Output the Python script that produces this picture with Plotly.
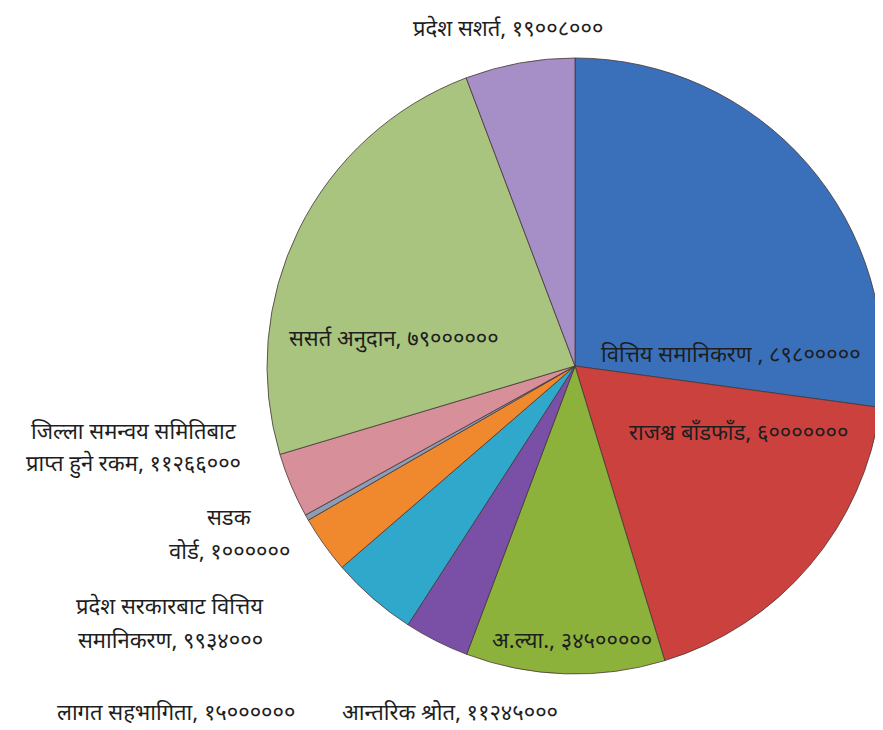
import plotly.graph_objects as go

# ---- data ----
categories = [
    "वित्तिय समानिकरण ",
    "राजश्व बाँडफाँड",
    "अ.ल्या.",
    "आन्तरिक श्रोत",
    "लागत सहभागिता",
    "प्रदेश सरकारबाट वित्तिय समानिकरण",
    "सडक वोर्ड",
    "जिल्ला समन्वय समितिबाट प्राप्त हुने रकम",
    "ससर्त अनुदान",
    "प्रदेश सशर्त",
]
values = [89800000, 60000000, 34500000, 11245000, 15000000,
          9934000, 1000000, 11266000, 79000000, 19008000]
colors = ["#3A70BA", "#CB413D", "#8CB23C", "#7A50A6", "#30A8CC",
          "#F0892E", "#8C9DB5", "#D78F99", "#A8C47F", "#A68FC6"]

# page body margin offset (browser default) and visible window size
OFF = 8
WIN_W, WIN_H = 883, 730
W, H = WIN_W - OFF, WIN_H - OFF
DEV = str.maketrans("0123456789", "०१२३४५६७८९")


def label_text(i):
    return f"{categories[i]}, {str(values[i]).translate(DEV)}"


# label layout (window px): index -> (words on first line or None, center x, first line y, line gap)
label_layout = {
    0: (None, 731, 356, 0),
    1: (None, 738, 434, 0),
    2: (None, 572, 642, 0),
    3: (None, 450, 714, 0),
    4: (None, 176, 714, 0),
    5: (3, 170, 608, 34),
    6: (1, 229, 519, 34),
    7: (3, 134, 433, 32),
    8: (None, 394, 340, 0),
    9: (None, 508, 30, 0),
}

# pie geometry in window px
cx, cy, r = 575, 366, 308
px0, px1 = cx - r - OFF, cx + r - OFF
py0, py1 = cy - r - OFF, cy + r - OFF

fig = go.Figure(go.Pie(
    labels=categories,
    values=values,
    sort=False,
    direction="clockwise",
    rotation=0,
    textinfo="none",
    hoverinfo="label+value",
    marker=dict(colors=colors, line=dict(color="rgba(70,55,55,0.8)", width=1)),
    domain=dict(x=[max(0.0, px0 / W), min(1.0, px1 / W)],
                y=[max(0.0, 1 - py1 / H), min(1.0, 1 - py0 / H)]),
    showlegend=False,
))

annotations = []
for i, (k, x, y, gap) in label_layout.items():
    text = label_text(i)
    if k is None:
        lines = [text]
    else:
        words = text.split(" ")
        lines = [" ".join(words[:k]), " ".join(words[k:])]
    for j, ln in enumerate(lines):
        annotations.append(dict(
            x=(x - OFF) / W, y=1 - (y + j * gap - OFF) / H,
            xref="paper", yref="paper",
            text=ln, showarrow=False, xanchor="center", yanchor="middle",
            font=dict(size=22, color="#1e1e1e"),
        ))

fig.update_layout(
    width=W, height=H,
    margin=dict(l=0, r=0, t=0, b=0),
    paper_bgcolor="white", plot_bgcolor="white",
    font=dict(family="Noto Sans Devanagari, Lohit Devanagari, Mangal, Noto Sans, sans-serif"),
    annotations=annotations,
)

fig.write_html("out.html")
